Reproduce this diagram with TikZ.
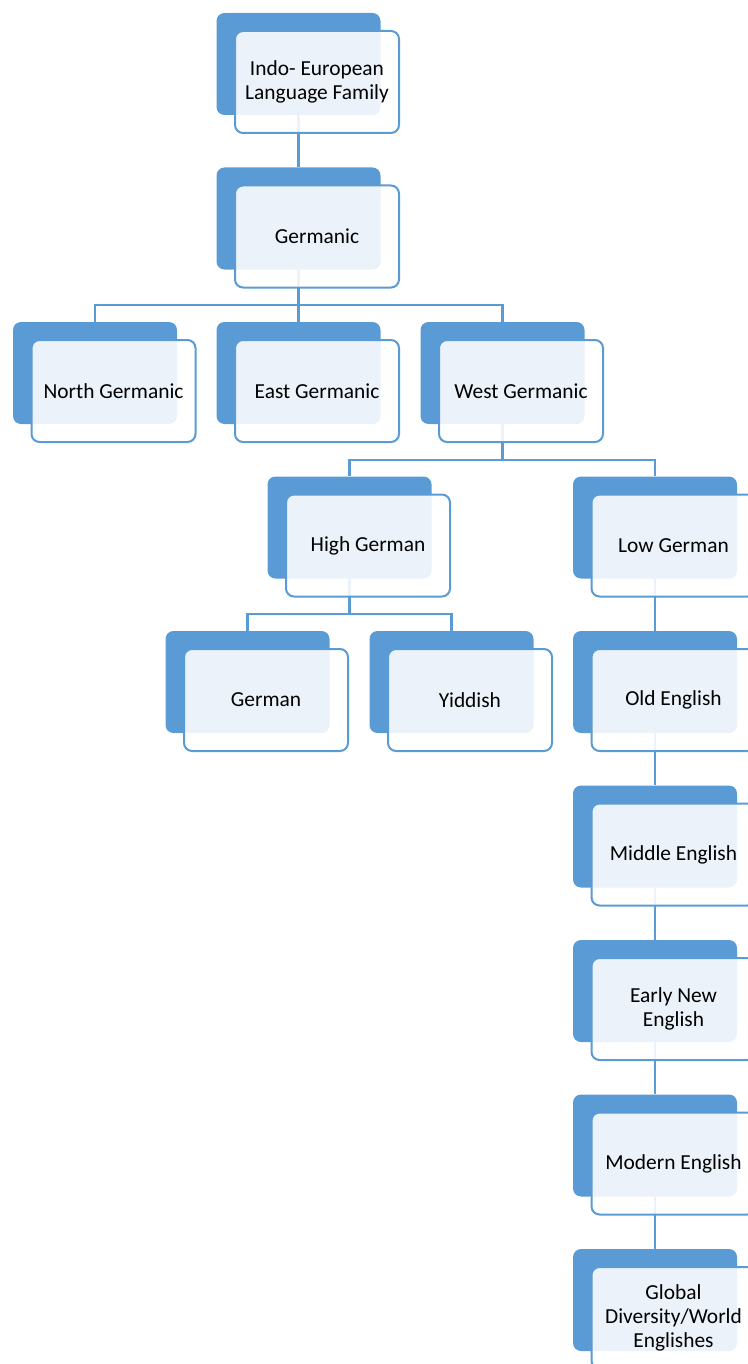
\documentclass[tikz,border=0pt]{standalone}
\usepackage{fontspec}
\setmainfont{Carlito}
\usetikzlibrary{calc,backgrounds}
\definecolor{accent}{HTML}{5B9BD5}
\tikzset{
  backbox/.style={rectangle, rounded corners=8pt, fill=accent, draw=none,
    minimum width=164pt, minimum height=102pt, inner sep=0pt},
  frontbox/.style={rectangle, rounded corners=8pt, fill=white, fill opacity=0.88,
    text opacity=1, draw=accent, draw opacity=1, line width=2pt,
    minimum width=164pt, minimum height=102pt, inner sep=0pt, align=center,
    font=\fontsize{21.4}{24}\selectfont},
  link/.style={draw=accent, line width=2.2pt}
}
\newcommand{\elem}[4]{% name, x, top y, text
  \node[backbox] (#1b) at (#2, #3+51) {};
  \node[frontbox] (#1f) at (#2+18.5, #3+69) {#4};
}
\newcommand{\junction}[3]{% name, parent, a child
  \coordinate (#1) at ($(#2b.south |- #2f.south)!0.5!(#2b.south |- #3b.north)$);
}
\begin{document}
\begin{tikzpicture}[x=1pt, y=-1pt]
\useasboundingbox (0,0) rectangle (747,1364);
% elements
\elem{ie}{298.5}{13}{Indo- European\\Language Family}
\elem{ger}{298.5}{167.5}{Germanic}
\elem{north}{95}{322}{North Germanic}
\elem{east}{298.5}{322}{East Germanic}
\elem{west}{502.5}{322}{West Germanic}
\elem{high}{349.5}{476.5}{High German}
\elem{low}{655}{476.5}{Low German}
\elem{german}{247.5}{631}{German}
\elem{yid}{451.5}{631}{Yiddish}
\elem{old}{655}{631}{Old English}
\elem{mid}{655}{785.5}{Middle English}
\elem{early}{655}{940}{Early New\\English}
\elem{mod}{655}{1094.5}{Modern English}
\elem{glob}{655}{1249}{Global\\Diversity/World\\Englishes}
% connectors beneath the boxes
\junction{jger}{ger}{east}
\junction{jwest}{west}{high}
\junction{jhigh}{high}{german}
\begin{scope}[on background layer]
\path[link] (ieb.south) -- (gerb.north);
\path[link] (gerb.south) -- (jger);
\path[link] (northb.north) |- (jger) -| (westb.north);
\path[link] (jger) -- (eastb.north);
\path[link] (westb.south) -- (jwest);
\path[link] (highb.north) |- (jwest) -| (lowb.north);
\path[link] (highb.south) -- (jhigh);
\path[link] (germanb.north) |- (jhigh) -| (yidb.north);
\path[link] (lowb.south) -- (oldb.north);
\path[link] (oldb.south) -- (midb.north);
\path[link] (midb.south) -- (earlyb.north);
\path[link] (earlyb.south) -- (modb.north);
\path[link] (modb.south) -- (globb.north);
\end{scope}
\end{tikzpicture}
\end{document}
